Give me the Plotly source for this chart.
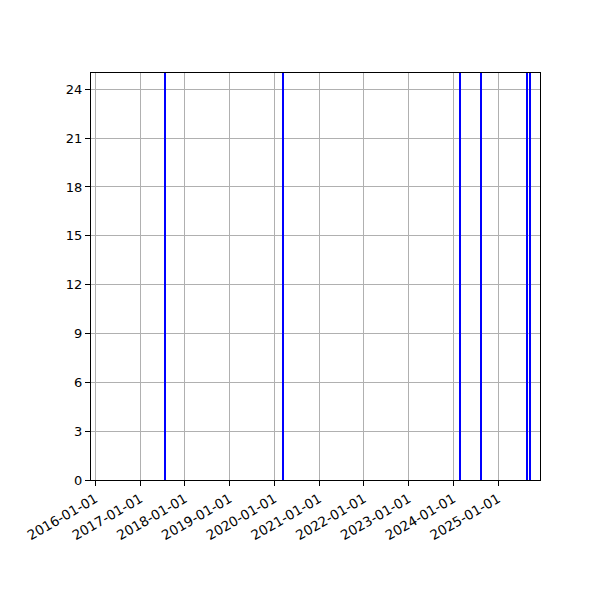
import plotly.graph_objects as go

# event dates and their counts; counts run off the top of the axis
event_dates = ['2017-07-24', '2020-03-14', '2024-02-26', '2024-08-15', '2025-08-28', '2025-09-18']
event_counts = [60, 60, 60, 60, 60, 60]

tick_dates = ['2016-01-01', '2017-01-01', '2018-01-01', '2019-01-01', '2020-01-01',
              '2021-01-01', '2022-01-01', '2023-01-01', '2024-01-01', '2025-01-01']
y_ticks = [0, 3, 6, 9, 12, 15, 18, 21, 24]

day_ms = 24 * 3600 * 1000

fig = go.Figure()
fig.add_trace(
    go.Bar(x=event_dates, y=event_counts, width=[12 * day_ms] * len(event_dates),
           marker={'color': 'blue', 'line': {'width': 0}}, showlegend=False)
)

axis_style = {
    'ticks': 'outside',
    'ticklen': 5,
    'tickwidth': 1,
    'tickcolor': 'black',
    'showline': True,
    'linewidth': 1,
    'linecolor': 'black',
    'mirror': True,
    'showgrid': True,
    'gridwidth': 1,
    'gridcolor': '#b0b0b0',
    'zeroline': False,
    'automargin': False,
    'tickfont': {'size': 13.5, 'color': 'black'},
}

fig.update_layout(
    width=600,
    height=600,
    margin={'l': 83, 'r': 68, 't': 65, 'b': 128},
    plot_bgcolor='white',
    paper_bgcolor='white',
    font={'family': 'DejaVu Sans'},
    xaxis={**axis_style,
           'type': 'date',
           'range': ['2015-11-26', '2025-12-09'],
           'tickvals': tick_dates,
           'ticktext': tick_dates,
           'tickangle': -30},
    yaxis={**axis_style,
           'range': [0, 25],
           'tickvals': y_ticks,
           'tickfont': {'size': 13, 'color': 'black'}},
    bargap=0,
)

fig.write_html("out.html")
